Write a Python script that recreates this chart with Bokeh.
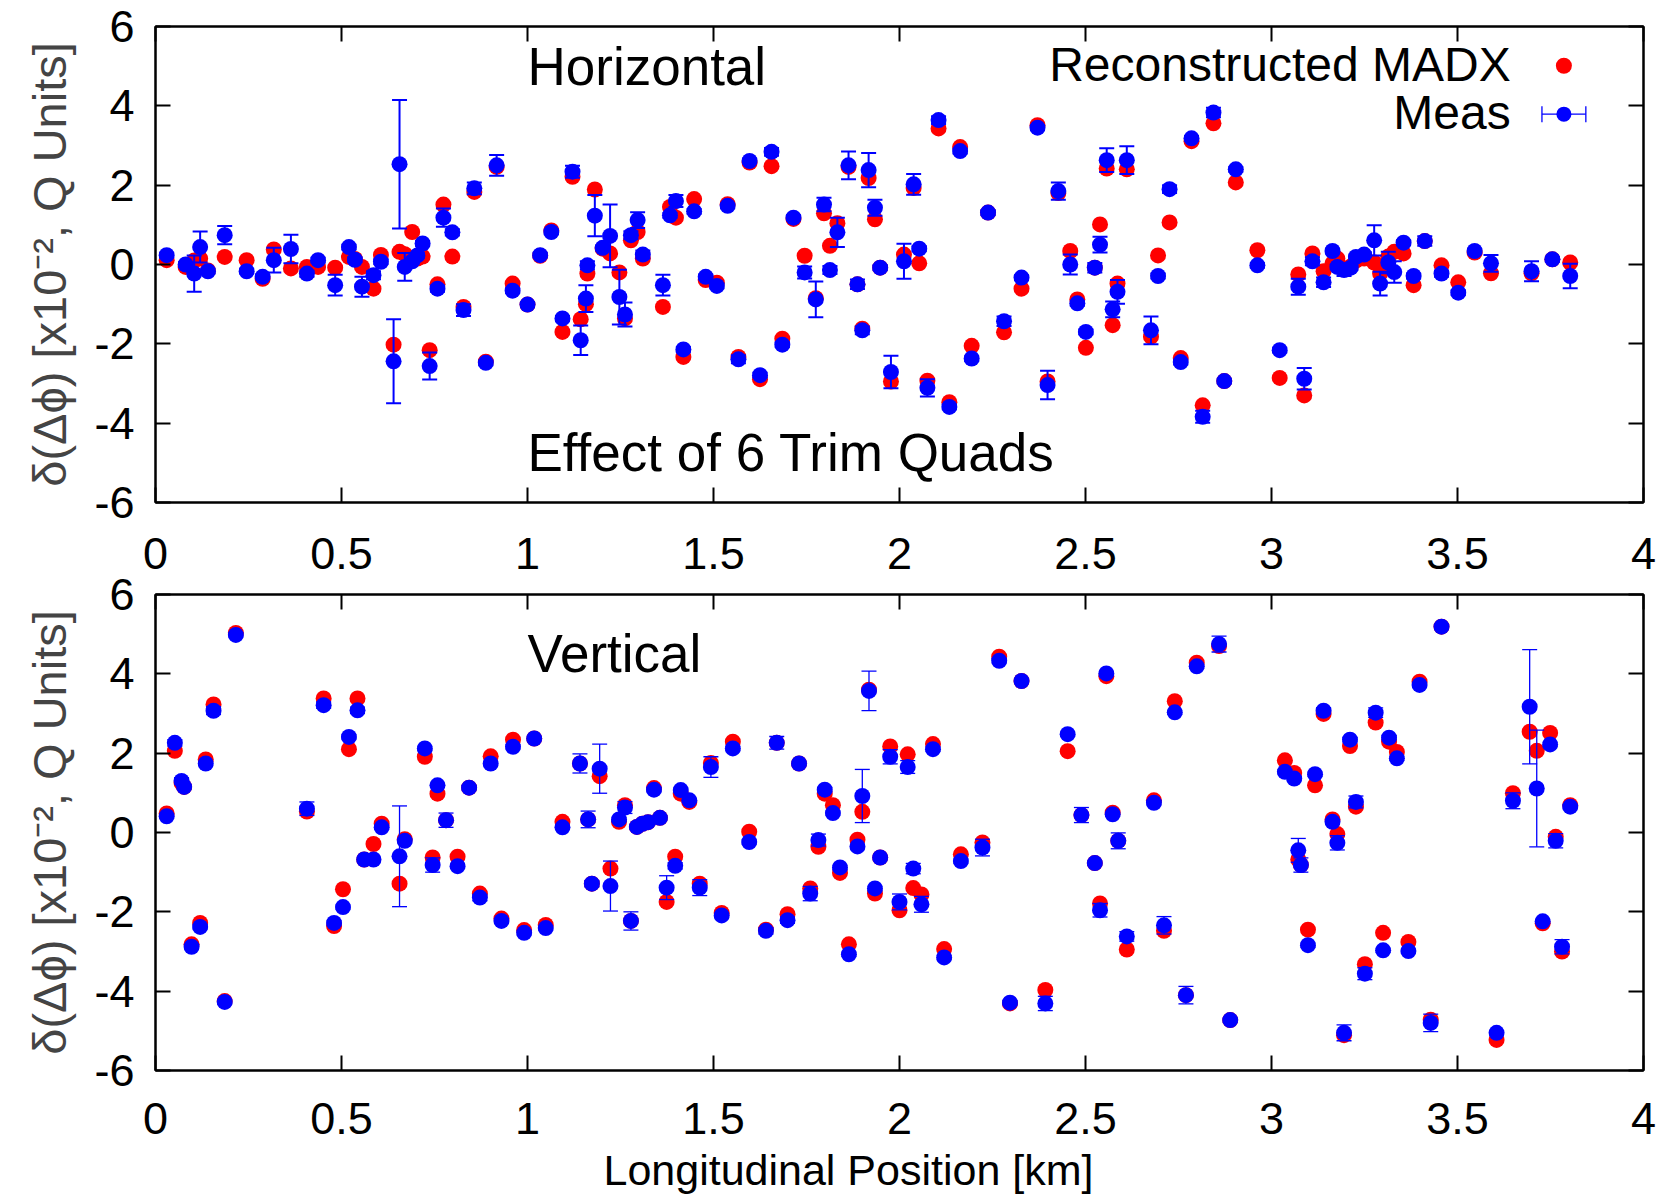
from bokeh.plotting import figure
from bokeh.layouts import column
from bokeh.models import (FixedTicker, LinearAxis, Label, ColumnDataSource, Range1d,
                          CustomJSTickFormatter, Title)
from bokeh.embed import file_html
from bokeh.resources import INLINE

# ---------------- data ----------------
x_ticks = [0, 0.5, 1, 1.5, 2, 2.5, 3, 3.5, 4]
y_ticks = [-6, -4, -2, 0, 2, 4, 6]

# Horizontal plane
h_pos = [0.030, 0.081, 0.104, 0.120, 0.141, 0.186, 0.245, 0.288, 0.318, 0.364,
         0.407, 0.437, 0.483, 0.520, 0.536, 0.555, 0.586, 0.606, 0.640, 0.656,
         0.670, 0.690, 0.704, 0.718, 0.737, 0.758, 0.774, 0.798, 0.828, 0.857,
         0.888, 0.917, 0.960, 1.000,
         1.034, 1.064, 1.094, 1.121, 1.143, 1.157, 1.161, 1.181, 1.202, 1.222,
         1.247, 1.262, 1.278, 1.296, 1.310, 1.364, 1.383, 1.399, 1.419, 1.448,
         1.479, 1.509, 1.538, 1.567, 1.597, 1.625, 1.656, 1.685, 1.715, 1.745,
         1.775, 1.797, 1.813, 1.833, 1.863, 1.887, 1.900, 1.917, 1.934, 1.948, 1.977,
         2.012, 2.038, 2.053, 2.075, 2.105, 2.134, 2.163, 2.194, 2.238, 2.281,
         2.328, 2.371, 2.398, 2.427, 2.459, 2.478, 2.501, 2.525, 2.539, 2.557,
         2.573, 2.586, 2.611, 2.676, 2.695, 2.726, 2.756, 2.785, 2.815, 2.844,
         2.873, 2.904, 2.962,
         3.022, 3.072, 3.088, 3.110, 3.140, 3.164, 3.177, 3.195, 3.213, 3.227,
         3.249, 3.276, 3.292, 3.314, 3.330, 3.355, 3.382, 3.412, 3.457, 3.502,
         3.546, 3.590, 3.699, 3.755, 3.803]
h_madx = [0.11, -0.06, 0.10, 0.15, -0.15, 0.19, 0.11, -0.36, 0.38, -0.10,
          -0.06, -0.06, -0.08, 0.19, 0.14, -0.06, -0.61, 0.24, -2.02, 0.32,
          0.26, 0.82, 0.15, 0.20, -2.16, -0.50, 1.51, 0.20, -1.07, 1.83,
          -2.45, 2.46, -0.48, -1.01,
          0.22, 0.86, -1.70, 2.21, -1.38, -1.00, -0.23, 1.89, 0.40, 0.28,
          -0.20, -1.36, 0.61, 0.82, 0.15, -1.07, 1.45, 1.18, -2.33, 1.65,
          -0.39, -0.46, 1.52, -2.33, 2.57, -2.89, 2.48, -1.87, 1.15, 0.22,
          -0.85, 1.29, 0.47, 1.04, 2.46, -0.50, -1.62, 2.18, 1.14, -0.08, -2.95,
          0.25, 1.93, 0.03, -2.93, 3.43, -3.47, 2.96, -2.05, 1.31, -1.71,
          -0.61, 3.51, -2.95, 1.80, 0.34, -0.88, -2.10, -0.08, 1.01, 2.42,
          -1.53, -0.48, 2.40, -1.82, 0.23, 1.06, -2.36, 3.11, -3.55, 3.56,
          -2.94, 2.07, 0.36,
          -2.86, -0.25, -3.30, 0.28, -0.17, 0.03, 0.15, -0.10, -0.05, 0.10,
          0.15, 0.05, -0.23, 0.20, 0.32, 0.28, -0.52, 0.59, -0.02, -0.45,
          0.30, -0.22, -0.22, 0.13, 0.05]
h_meas = [0.235, 0.00, -0.23, 0.44, -0.17, 0.74, -0.17, -0.31, 0.11, 0.39,
          -0.23, 0.11, -0.52, 0.44, 0.12, -0.56, -0.27, 0.07, -2.44, 2.53,
          -0.06, 0.08, 0.23, 0.53, -2.56, -0.61, 1.18, 0.81, -1.15, 1.92,
          -2.48, 2.50, -0.66, -1.01,
          0.235, 0.82, -1.36, 2.34, -1.91, -0.86, -0.02, 1.23, 0.42, 0.72,
          -0.82, -1.26, 0.74, 1.12, 0.25, -0.52, 1.24, 1.60, -2.14, 1.34,
          -0.31, -0.54, 1.48, -2.39, 2.61, -2.79, 2.84, -2.02, 1.18, -0.20,
          -0.88, 1.51, -0.14, 0.81, 2.50, -0.50, -1.66, 2.38, 1.43, -0.08, -2.71,
          0.08, 2.02, 0.40, -3.11, 3.64, -3.59, 2.86, -2.37, 1.31, -1.43,
          -0.33, 3.45, -3.04, 1.85, 0.00, -0.98, -1.70, -0.08, 0.50, 2.63,
          -1.13, -0.69, 2.63, -1.66, -0.29, 1.90, -2.46, 3.18, -3.84, 3.83,
          -2.94, 2.40, -0.02,
          -2.16, -0.56, -2.88, 0.08, -0.45, 0.34, -0.06, -0.14, -0.08, 0.19,
          0.25, 0.61, -0.48, 0.05, -0.19, 0.55, -0.29, 0.59, -0.23, -0.71,
          0.34, 0.03, -0.17, 0.13, -0.29]
h_err = [0.06, 0.06, 0.46, 0.39, 0.06, 0.23, 0.06, 0.06, 0.31, 0.36,
         0.08, 0.06, 0.26, 0.06, 0.06, 0.25, 0.10, 0.06, 1.06, 1.62,
         0.35, 0.06, 0.06, 0.06, 0.34, 0.08, 0.23, 0.08, 0.15, 0.15,
         0.06, 0.26, 0.06, 0.06,
         0.06, 0.06, 0.06, 0.15, 0.37, 0.34, 0.10, 0.52, 0.06, 0.79,
         0.69, 0.30, 0.10, 0.20, 0.10, 0.26, 0.06, 0.15, 0.06, 0.06,
         0.06, 0.06, 0.06, 0.10, 0.06, 0.06, 0.10, 0.06, 0.06, 0.15,
         0.45, 0.17, 0.10, 0.37, 0.35, 0.12, 0.10, 0.43, 0.20, 0.06, 0.41,
         0.44, 0.26, 0.06, 0.22, 0.10, 0.06, 0.06, 0.06, 0.06, 0.12,
         0.06, 0.06, 0.36, 0.22, 0.25, 0.06, 0.06, 0.12, 0.20, 0.30,
         0.20, 0.30, 0.35, 0.35, 0.06, 0.10, 0.06, 0.06, 0.15, 0.12,
         0.06, 0.06, 0.06,
         0.06, 0.20, 0.27, 0.10, 0.12, 0.06, 0.06, 0.15, 0.06, 0.06,
         0.06, 0.38, 0.30, 0.27, 0.27, 0.06, 0.06, 0.12, 0.08, 0.06,
         0.06, 0.21, 0.25, 0.06, 0.31]

# Vertical plane
v_pos = [0.030, 0.052, 0.070, 0.077, 0.097, 0.120, 0.135, 0.156, 0.186, 0.216,
         0.407, 0.452, 0.480, 0.504, 0.520, 0.543, 0.561, 0.586, 0.608, 0.656,
         0.670, 0.724, 0.745, 0.758, 0.781, 0.812, 0.843, 0.872, 0.901, 0.930,
         0.961, 0.991, 1.018, 1.049, 1.094, 1.141, 1.163, 1.173, 1.194, 1.223,
         1.246, 1.262, 1.278, 1.294, 1.309, 1.324, 1.340, 1.356, 1.374, 1.397,
         1.412, 1.435, 1.463, 1.493, 1.522, 1.552, 1.596, 1.641, 1.670, 1.699,
         1.730, 1.760, 1.782, 1.799, 1.821, 1.840, 1.864, 1.887, 1.900, 1.918,
         1.934, 1.948, 1.975, 2.000, 2.022, 2.037, 2.059, 2.090, 2.120, 2.165,
         2.223, 2.268, 2.297, 2.328, 2.392, 2.452, 2.489, 2.525, 2.539, 2.556,
         2.573, 2.588, 2.611, 2.684, 2.711, 2.740, 2.770, 2.799, 2.859, 2.889,
         3.036, 3.061, 3.072, 3.079, 3.098, 3.117, 3.140, 3.164, 3.177, 3.195,
         3.211, 3.227, 3.251, 3.280, 3.300, 3.316, 3.337, 3.368, 3.398, 3.428,
         3.457, 3.605, 3.649, 3.694, 3.713, 3.729, 3.749, 3.764, 3.781, 3.803]
v_madx = [0.48, 2.06, 1.25, 1.15, -2.82, -2.28, 1.84, 3.23, -4.25, 5.03,
          0.53, 3.38, -2.36, -1.43, 2.10, 3.38, -0.68, -0.29, 0.22, -1.29,
          -0.17, 1.91, -0.63, 0.98, 0.31, -0.61, 1.13, -1.54, 1.92, -2.17,
          2.34, -2.46, 2.37, -2.33, 0.27, 1.74, 0.33, -1.29, 1.42, -0.91,
          0.27, 0.69, -2.23, 0.14, 0.22, 0.26, 1.12, 0.37, -1.75, -0.61,
          0.98, 0.77, -1.29, 1.75, -2.03, 2.29, 0.02, -2.45, 2.26, -2.06,
          1.74, -1.41, -0.36, 0.98, 0.69, -1.02, -2.82, -0.18, 0.52, 3.60,
          -1.54, -0.63, 2.17, -1.96, 1.97, -1.40, -1.56, 2.23, -2.94, -0.55,
          -0.25, 4.43, -4.31, 3.82, -3.97, 2.05, 0.44, -0.77, -1.79, 3.94,
          0.50, -0.21, -2.95, 0.81, -2.48, 3.31, -4.10, 4.28, 4.70, -4.73,
          1.82, 1.50, -0.68, -0.82, -2.45, 1.19, 2.99, 0.33, -0.04, -5.11,
          2.18, 0.65, -3.32, 2.77, -2.53, 2.29, 2.03, -2.76, 3.80, -4.72,
          5.19, -5.23, 0.99, 2.54, 2.06, -2.29, 2.51, -0.11, -3.00, 0.69]
v_meas = [0.41, 2.26, 1.30, 1.15, -2.88, -2.38, 1.74, 3.07, -4.27, 4.98,
          0.60, 3.21, -2.28, -1.88, 2.41, 3.08, -0.68, -0.68, 0.13, -0.60,
          -0.21, 2.12, -0.82, 1.19, 0.31, -0.85, 1.13, -1.64, 1.74, -2.23,
          2.16, -2.53, 2.37, -2.41, 0.13, 1.74, 0.33, -1.29, 1.61, -1.35,
          0.33, 0.63, -2.23, 0.14, 0.22, 0.26, 1.08, 0.37, -1.39, -0.84,
          1.07, 0.81, -1.39, 1.65, -2.09, 2.12, -0.24, -2.48, 2.26, -2.21,
          1.74, -1.54, -0.19, 1.08, 0.49, -0.88, -3.07, -0.35, 0.92, 3.57,
          -1.41, -0.63, 1.91, -1.75, 1.65, -0.91, -1.81, 2.10, -3.15, -0.72,
          -0.38, 4.33, -4.29, 3.82, -4.31, 2.48, 0.44, -0.77, -1.96, 4.01,
          0.46, -0.21, -2.62, 0.75, -2.34, 3.03, -4.10, 4.19, 4.75, -4.73,
          1.53, 1.36, -0.45, -0.82, -2.84, 1.47, 3.07, 0.27, -0.26, -5.05,
          2.34, 0.77, -3.56, 3.02, -2.97, 2.39, 1.87, -2.99, 3.72, -4.80,
          5.19, -5.05, 0.80, 3.17, 1.11, -2.24, 2.22, -0.21, -2.88, 0.65]
v_err = [0.05, 0.08, 0.08, 0.05, 0.05, 0.05, 0.05, 0.10, 0.05, 0.05,
         0.17, 0.08, 0.05, 0.05, 0.05, 0.08, 0.05, 0.05, 0.05, 1.27,
         0.05, 0.05, 0.18, 0.05, 0.18, 0.05, 0.05, 0.08, 0.05, 0.05,
         0.05, 0.05, 0.05, 0.05, 0.05, 0.24, 0.21, 0.08, 0.62, 0.63,
         0.05, 0.15, 0.23, 0.05, 0.05, 0.05, 0.05, 0.05, 0.30, 0.08,
         0.05, 0.05, 0.20, 0.26, 0.05, 0.05, 0.05, 0.08, 0.16, 0.08,
         0.05, 0.18, 0.15, 0.05, 0.05, 0.05, 0.05, 0.05, 0.67, 0.50,
         0.05, 0.05, 0.18, 0.20, 0.16, 0.13, 0.20, 0.05, 0.05, 0.05,
         0.21, 0.05, 0.05, 0.05, 0.18, 0.05, 0.19, 0.05, 0.17, 0.05,
         0.05, 0.20, 0.12, 0.05, 0.22, 0.05, 0.22, 0.05, 0.20, 0.05,
         0.05, 0.05, 0.30, 0.18, 0.05, 0.05, 0.08, 0.05, 0.18, 0.20,
         0.05, 0.15, 0.15, 0.12, 0.05, 0.05, 0.05, 0.05, 0.05, 0.22,
         0.05, 0.05, 0.20, 1.44, 1.47, 0.05, 0.05, 0.18, 0.18, 0.05]

RED = "#ff0000"
BLUE = "#0000ff"
FONT = "Liberation Sans"
Y_LABEL = "\u03b4(\u0394\u03d5) [x10\u207b\u00b2, Q Units]"
X_LABEL = "Longitudinal Position [km]"

W = 1673


def style_axis(ax, ticks, show_labels, standoff=21):
    ax.ticker = FixedTicker(ticks=ticks)
    ax.major_tick_in = 15
    ax.major_tick_out = 0
    ax.minor_tick_line_color = None
    ax.major_tick_line_width = 2
    ax.major_tick_line_color = "black"
    ax.axis_line_width = 2
    ax.axis_line_color = "black"
    if show_labels:
        ax.formatter = CustomJSTickFormatter(code="return tick.toString()")
        ax.major_label_text_font = FONT
        ax.major_label_text_font_size = "45px"
        ax.major_label_text_color = "black"
        ax.major_label_standoff = standoff
    else:
        ax.formatter = CustomJSTickFormatter(code="return ''")
        ax.major_label_text_font_size = "1px"
        ax.major_label_standoff = 0


def make_panel(pos, madx, meas, err, height, b_top, b_bottom, err_w,
               top_labels, bottom_labels, top_standoff, bottom_standoff):
    p = figure(width=W, height=height, x_range=Range1d(0, 4), y_range=Range1d(-6, 6),
               output_backend="svg", toolbar_location=None,
               min_border_left=155, min_border_right=30,
               min_border_top=b_top, min_border_bottom=b_bottom)
    p.xgrid.visible = False
    p.ygrid.visible = False
    p.outline_line_color = "black"
    p.outline_line_width = 2
    p.background_fill_color = "white"
    p.border_fill_color = "white"

    style_axis(p.below[0], x_ticks, bottom_labels, bottom_standoff)
    style_axis(p.left[0], y_ticks, True)
    p.left[0].axis_label = Y_LABEL
    p.left[0].axis_label_text_font = FONT
    p.left[0].axis_label_text_font_size = "47px"
    p.left[0].axis_label_text_font_style = "normal"
    p.left[0].axis_label_standoff = 15
    top_ax = LinearAxis()
    right_ax = LinearAxis()
    style_axis(top_ax, x_ticks, top_labels, top_standoff)
    style_axis(right_ax, y_ticks, False)
    p.add_layout(top_ax, "above")
    p.add_layout(right_ax, "right")

    src = ColumnDataSource(dict(
        x=pos, madx=madx, meas=meas,
        lo=[m - e for m, e in zip(meas, err)],
        hi=[m + e for m, e in zip(meas, err)],
    ))
    p.scatter("x", "madx", source=src, size=16, fill_color=RED, line_color=None)
    p.segment(x0="x", y0="lo", x1="x", y1="hi", source=src,
              line_color=BLUE, line_width=err_w)
    p.scatter("x", "lo", source=src, marker="dash", size=15,
              line_color=BLUE, line_width=err_w)
    p.scatter("x", "hi", source=src, marker="dash", size=15,
              line_color=BLUE, line_width=err_w)
    p.scatter("x", "meas", source=src, size=16, fill_color=BLUE, line_color=None)
    return p


def add_text(p, x, y, text, size, align="left"):
    p.add_layout(Label(x=x, y=y, text=text, text_font=FONT, text_font_size=size,
                       text_align=align, text_baseline="alphabetic",
                       text_color="black"))


# top panel: its x tick labels are drawn by the lower panel's upper axis (same x scale)
p1 = make_panel(h_pos, h_madx, h_meas, h_err, 528, 26, 26, 2,
                top_labels=False, bottom_labels=False, top_standoff=0, bottom_standoff=0)
p2 = make_panel(v_pos, v_madx, v_meas, v_err, 673, 66, 131, 1.3,
                top_labels=True, bottom_labels=True, top_standoff=26, bottom_standoff=32)

p2.add_layout(Title(text=X_LABEL, align="left", offset=448, standoff=14,
                    text_font=FONT, text_font_size="43px", text_font_style="normal",
                    text_color="black"), "below")

add_text(p1, 1.0, 5.00, "Horizontal", "53px")
add_text(p1, 1.0, -4.75, "Effect of 6 Trim Quads", "53px")
add_text(p2, 1.0, 4.51, "Vertical", "53px")

# legend (top-right, gnuplot style: text on the left, sample on the right)
LEG_TEXT_X = 3.643
LEG_SAMPLE_X = 3.786
LEG_HALF = 0.059
add_text(p1, LEG_TEXT_X, 5.03, "Reconstructed MADX", "48px", "right")
add_text(p1, LEG_TEXT_X, 3.82, "Meas", "48px", "right")
p1.scatter([LEG_SAMPLE_X], [5.01], size=16, fill_color=RED, line_color=None)
p1.segment(x0=[LEG_SAMPLE_X - LEG_HALF], y0=[3.79], x1=[LEG_SAMPLE_X + LEG_HALF], y1=[3.79],
           line_color=BLUE, line_width=1.3)
p1.scatter([LEG_SAMPLE_X - LEG_HALF, LEG_SAMPLE_X + LEG_HALF], [3.79, 3.79], marker="dash",
           angle=1.5708, size=16, line_color=BLUE, line_width=1.3)
p1.scatter([LEG_SAMPLE_X], [3.79], size=15, fill_color=BLUE, line_color=None)

layout = column(p1, p2, spacing=0)
open("out.html", "w").write(file_html(layout, INLINE))
